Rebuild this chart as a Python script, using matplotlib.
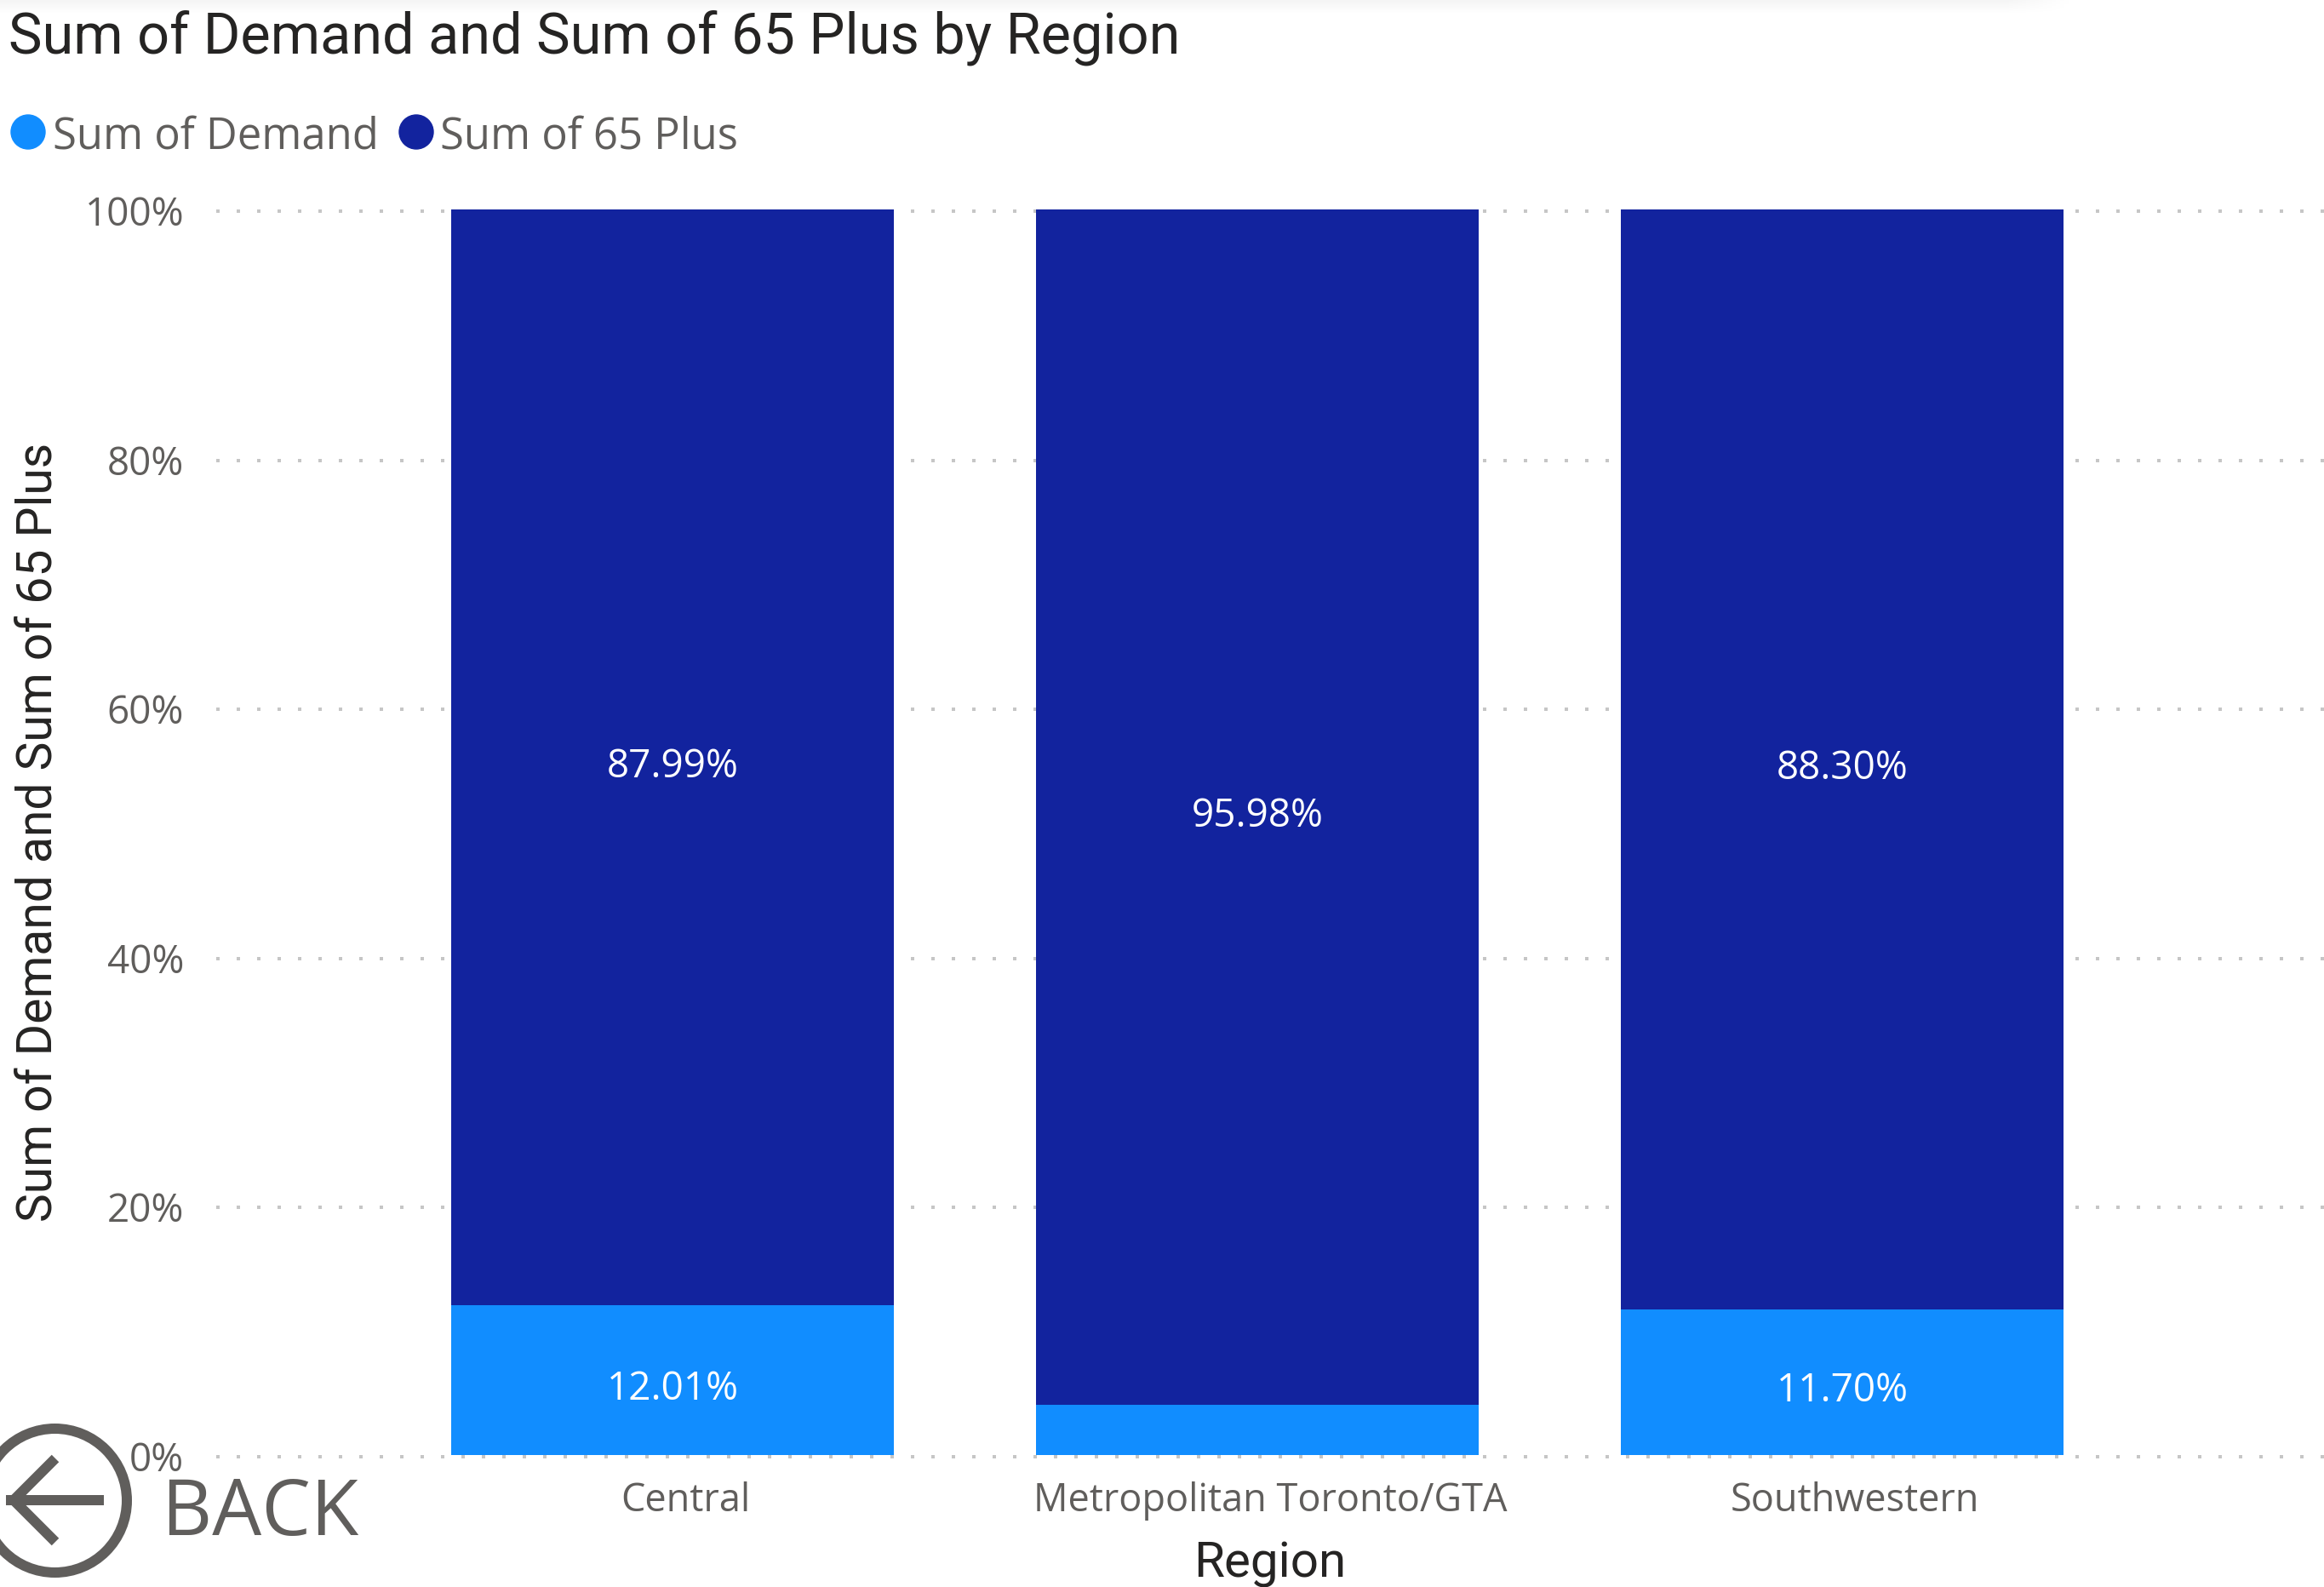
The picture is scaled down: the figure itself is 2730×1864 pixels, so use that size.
import matplotlib
matplotlib.use('Agg')
import matplotlib.pyplot as plt
import matplotlib.patches as patches
import matplotlib.transforms as transforms
import numpy as np

regions = ['Central', 'Metropolitan Toronto/GTA', 'Southwestern']
demand = [12.01, 4.02, 11.70]
plus65 = [87.99, 95.98, 88.30]
demand_labels = ['12.01%', '', '11.70%']
plus65_labels = ['87.99%', '95.98%', '88.30%']
y_ticks = [0, 20, 40, 60, 80, 100]

W, H = 2730, 1865
GREY = '#605E5C'
DARK = '#252423'
fig = plt.figure(figsize=(W / 100, H / 100), dpi=100)

def px(x, y):
    # pixel coords, origin top left
    return x / W, 1 - y / H

def pt(n):
    # pixels to points at dpi 100
    return n * 0.72

# axes box in pixels, bars are centred on 790 + 687 * i
left, right, top, bottom = 254, W, 247, 1710
ax = fig.add_axes([left / W, 1 - bottom / H, (right - left) / W, (bottom - top) / H])
ax.set_ylim(0, 100)
ax.set_xlim((left - 790) / 687, (right - 790) / 687)
for s in ax.spines.values():
    s.set_visible(False)
ax.set_xticks([])
ax.set_yticks([])
ax.patch.set_alpha(0)

# dotted grid, sits a little under the tick position
shift = transforms.ScaledTranslation(0, -pt(2) / 72, fig.dpi_scale_trans)
for t in y_ticks:
    ax.plot(ax.get_xlim(), [t, t], color='#c6c6c6', lw=pt(4), dashes=(1, 5), dash_capstyle='butt',
            transform=ax.transData + shift, zorder=1, clip_on=False)
    ax.annotate('%d%%' % t, xy=(0, t), xycoords=('axes fraction', 'data'), xytext=(pt(-38), pt(-6)),
                textcoords='offset points', ha='right', va='center', fontsize=33, color=GREY,
                family='Open Sans', annotation_clip=False)

x = np.arange(len(regions))
ax.bar(x, demand, width=0.757, color='#118DFF', zorder=2)
ax.bar(x, plus65, width=0.757, bottom=demand, color='#12239E', zorder=2)

for i in x:
    if demand_labels[i]:
        ax.annotate(demand_labels[i], xy=(i, demand[i] / 2), xytext=(0, pt(-10)), textcoords='offset points',
                    color='white', ha='center', va='center', fontsize=33, family='Open Sans', zorder=3)
    ax.annotate(plus65_labels[i], xy=(i, demand[i] + plus65[i] / 2), xytext=(0, pt(-10)), textcoords='offset points',
                color='white', ha='center', va='center', fontsize=33, family='Open Sans', zorder=3)

# category labels are offset a bit from the bar centres
for i, r in enumerate(regions):
    ax.annotate(r, xy=(i, 0), xytext=(pt(15), pt(-53)), textcoords='offset points', ha='center', va='center',
                fontsize=32.5, color=GREY, family='Open Sans', annotation_clip=False)

fig.text(1492 / W, 1 - 1838 / H, 'Region', ha='center', va='center', fontsize=42, color=DARK, family='Roboto')
fig.text(45 / W, 1 - 977 / H, 'Sum of Demand and Sum of 65 Plus', rotation=90, ha='center', va='center',
         fontsize=41, color=DARK, family='Roboto')
fig.text(10 / W, 1 - 45 / H, 'Sum of Demand and Sum of 65 Plus by Region', ha='left', va='center',
         fontsize=48, color=DARK, family='Roboto')

# legend
for cx, col, lab, tx in [(33, '#118DFF', 'Sum of Demand', 62), (489, '#12239E', 'Sum of 65 Plus', 517)]:
    fig.add_artist(patches.Ellipse(px(cx, 156), 40 / W, 40 / H, color=col, transform=fig.transFigure))
    fig.text(tx / W, 1 - 161 / H, lab, ha='left', va='center', fontsize=36.5, color=GREY, family='Open Sans')

# back button
fig.add_artist(patches.Ellipse(px(64.5, 1763.5), 169 / W, 169 / H, fill=False, ec=GREY, lw=pt(12),
                               transform=fig.transFigure, zorder=6))
fig.add_artist(plt.Line2D([px(7, 0)[0], px(122, 0)[0]], [px(0, 1763)[1]] * 2, color=GREY, lw=pt(12),
                          solid_capstyle='butt', zorder=6))
fig.add_artist(plt.Line2D([px(65, 0)[0], px(16, 0)[0], px(65, 0)[0]],
                          [px(0, 1714)[1], px(0, 1763)[1], px(0, 1812)[1]],
                          color=GREY, lw=pt(12), solid_capstyle='butt', solid_joinstyle='miter', zorder=6))
fig.text(190 / W, 1 - 1803 / H, 'BACK', ha='left', va='baseline', fontsize=66, color=GREY, family='Open Sans')

# soft shadow along the top edge, fades out before the right side
fade_y = np.linspace(0.045, 0, 18).reshape(-1, 1)
fade_x = np.clip((2435 - np.arange(0, 2440, 5)) / 80, 0, 1).reshape(1, -1)
grad = 1 - fade_y * fade_x
sh = fig.add_axes([0, 1 - 18 / H, 2440 / W, 18 / H], zorder=-1)
sh.imshow(grad, cmap='gray', vmin=0, vmax=1, aspect='auto')
sh.axis('off')

fig.savefig('out.png', dpi=100)
